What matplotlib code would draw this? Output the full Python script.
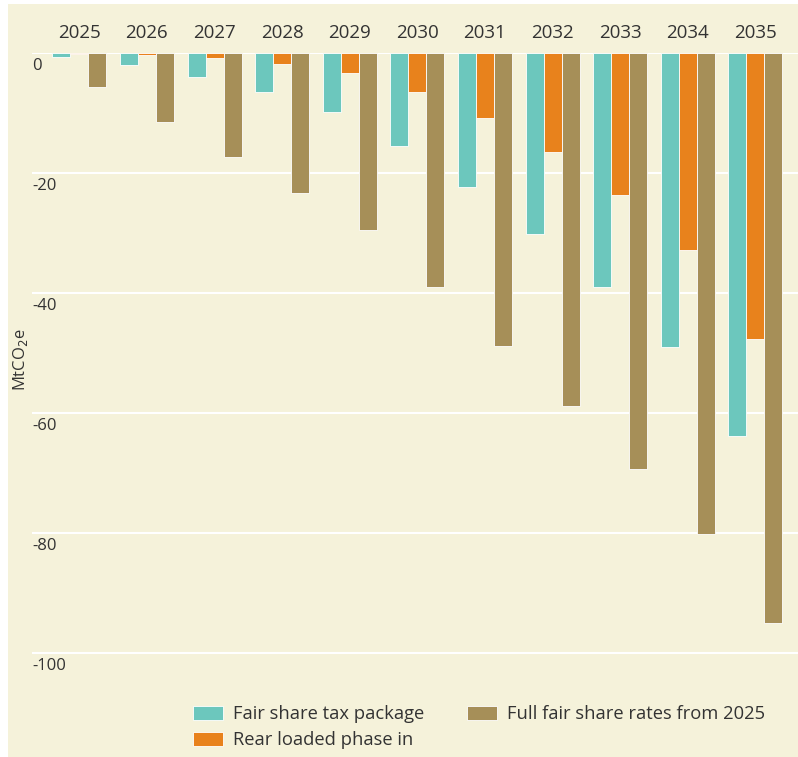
import matplotlib
matplotlib.use("Agg")
import matplotlib.pyplot as plt
import numpy as np
from matplotlib.patches import Rectangle
from matplotlib.transforms import blended_transform_factory

years = ["2025", "2026", "2027", "2028", "2029", "2030", "2031", "2032", "2033", "2034", "2035"]
fair_share_tax = [-0.7, -2.0, -4.0, -6.45, -9.85, -15.5, -22.3, -30.2, -39.0, -49.0, -63.8]
rear_loaded = [-0.2, -0.4, -0.9, -1.85, -3.35, -6.5, -10.85, -16.5, -23.7, -32.8, -47.7]
full_rates = [-5.7, -11.5, -17.3, -23.3, -29.5, -39.0, -48.8, -58.8, -69.3, -80.2, -95.0]
series_names = ["Fair share tax package", "Rear loaded phase in", "Full fair share rates from 2025"]
yticks = [0, -20, -40, -60, -80, -100]

BG = "#f5f2da"
TEAL = "#6cc7bd"
ORANGE = "#e8821c"
BROWN = "#a68f58"
TXT = "#333333"

plt.rcParams['font.family'] = ['Open Sans', 'DejaVu Sans']

W, H = 798, 757
fig = plt.figure(figsize=(W/100, H/100), dpi=100)
fig.patch.set_facecolor("white")
fig.patches.append(Rectangle((8/W, 0), 1 - 8/W, 1 - 4/H, transform=fig.transFigure,
                             facecolor=BG, edgecolor="none", zorder=-10))

ax = fig.add_axes([32/W, 1 - 701/H, 1 - 32/W, (701 - 53)/H])
ax.set_facecolor("none")

x = np.arange(len(years))
w = 0.266
ax.bar(x - w, fair_share_tax, w, color=TEAL, edgecolor="white", linewidth=0.6, label=series_names[0], zorder=3)
ax.bar(x, rear_loaded, w, color=ORANGE, edgecolor="white", linewidth=0.6, label=series_names[1], zorder=3)
ax.bar(x + w, full_rates, w, color=BROWN, edgecolor="white", linewidth=0.6, label=series_names[2], zorder=3)

ax.set_xlim(-0.70, 10.63)
ax.set_ylim(-108, 0)

for v in yticks:
    ax.axhline(v, color="white", linewidth=1.5, zorder=1)

ax.set_yticks([])
ax.xaxis.tick_top()
ax.set_xticks(x)
ax.set_xticklabels(years, fontsize=13.5, color=TXT)
ax.tick_params(axis="x", length=0, pad=8)
for s in ax.spines.values():
    s.set_visible(False)

tr = blended_transform_factory(ax.transAxes, ax.transData)
for v in yticks:
    ax.text(0.0, v - 0.8, str(v), transform=tr, ha="left", va="top", fontsize=12, color=TXT)

fig.text(20/W, 1 - 360/H, "MtCO$_2$e", rotation=90, ha="center", va="center", fontsize=12, color=TXT)

handles, labels = ax.get_legend_handles_labels()
leg = fig.legend(handles, labels, loc="upper left", bbox_to_anchor=(193/W, 1 - 705/H),
                 ncol=2, frameon=False, fontsize=13.2, handlelength=1.65, handleheight=0.82,
                 handletextpad=0.55, columnspacing=2.3, labelspacing=0.45,
                 borderpad=0, borderaxespad=0)
for t in leg.get_texts():
    t.set_color(TXT)

fig.savefig("out.png", dpi=100, facecolor=fig.get_facecolor())
